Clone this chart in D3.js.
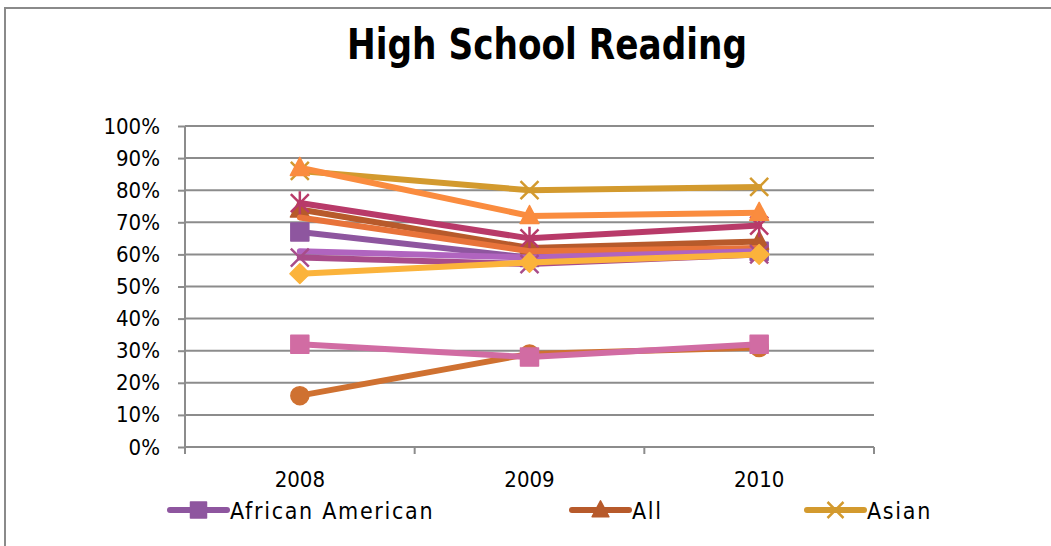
<!DOCTYPE html>
<html>
<head>
<meta charset="utf-8">
<script src="https://cdn.jsdelivr.net/npm/d3@7"></script>
<style>
  html, body { margin: 0; padding: 0; background: #fff; }
  svg { display: block; }
  text { font-family: "DejaVu Sans Condensed", "DejaVu Sans", sans-serif; fill: #000; }
</style>
</head>
<body>
<svg id="chart" width="1051" height="546"></svg>
<script>
// School years on the category axis
const years = ["2008", "2009", "2010"];

// Percent tick labels on the value axis
const yTicks = [0, 10, 20, 30, 40, 50, 60, 70, 80, 90, 100];

// Student groups, percent meeting standard per year
const groupNames = [
  "African American", "All", "Asian", "White", "Hispanic",
  "Two or More Races", "Native American", "Pacific Islander",
  "Low Income", "Limited English", "Special Ed"
];
const africanAmerican = [67, 59, 61];
const allStudents     = [74, 62, 64];
const asian           = [86, 80, 81];
const white           = [76, 65, 69];
const hispanic        = [71.5, 61, 62];
const multiRacial     = [61, 59, 61];
const nativeAmerican  = [59, 57, 60];
const pacificIslander = [54, 57.5, 60];
const lowIncome       = [87, 72, 73];
const limitedEnglish  = [16, 29, 31];
const specialEd       = [32, 28, 32];

const seriesValues = [
  africanAmerican, allStudents, asian, white, hispanic,
  multiRacial, nativeAmerican, pacificIslander, lowIncome,
  limitedEnglish, specialEd
];
const seriesColors = [
  "#8e569f", "#b75a2b", "#d39a2e", "#b83a69", "#e8733a",
  "#b064bf", "#a84c8a", "#fbb33b", "#fa8c3f", "#cf7131", "#d16ca3"
];
const seriesMarkers = [
  "square", "triangle", "x", "star", "none",
  "none", "x", "diamond", "triangle", "circle", "square"
];
// Only the first three groups fit in the legend row
const legendCount = 3;

const svg = d3.select("#chart");

// Outer chart frame
svg.append("rect")
  .attr("x", 5).attr("y", 8).attr("width", 1070).attr("height", 560)
  .attr("fill", "#fff").attr("stroke", "#8a8a8a").attr("stroke-width", 2);

// Title
svg.append("text")
  .attr("x", 547).attr("y", 59)
  .attr("text-anchor", "middle")
  .attr("textLength", 400).attr("lengthAdjust", "spacingAndGlyphs")
  .style("font-size", "43px").style("font-weight", "bold")
  .text("High School Reading");

const plot = { left: 185, right: 874, top: 126, bottom: 447 };

const x = d3.scaleBand().domain(years).range([plot.left, plot.right]);
const y = d3.scaleLinear().domain([0, 100]).range([plot.bottom, plot.top]);
const px = d => x(d) + x.bandwidth() / 2;

const gridColor = "#8c8c8c";

// Horizontal gridlines
svg.append("g")
  .selectAll("line").data(yTicks.filter(t => t > 0)).join("line")
  .attr("x1", plot.left).attr("x2", plot.right)
  .attr("y1", d => y(d)).attr("y2", d => y(d))
  .attr("stroke", gridColor).attr("stroke-width", 2);

// Value axis
const yAxis = svg.append("g")
  .attr("transform", `translate(${plot.left},0)`)
  .call(d3.axisLeft(y).tickValues(yTicks).tickSize(7).tickPadding(18)
    .tickFormat(d => d + "%"));
yAxis.selectAll("path, line").attr("stroke", gridColor).attr("stroke-width", 2);
yAxis.select(".domain").attr("d", `M0,${plot.top}V${plot.bottom}`);
yAxis.selectAll("text").style("font-size", "22px").style("font-family", "DejaVu Sans Condensed").attr("fill", "#000");

// Category axis with ticks between categories
const xAxis = svg.append("g")
  .attr("transform", `translate(0,${plot.bottom})`);
xAxis.append("line")
  .attr("x1", plot.left).attr("x2", plot.right)
  .attr("stroke", gridColor).attr("stroke-width", 2);
const bounds = years.map(d => x(d)).concat([x(years[years.length - 1]) + x.bandwidth()]);
xAxis.selectAll("line.tick").data(bounds).join("line")
  .attr("class", "tick")
  .attr("x1", d => d).attr("x2", d => d).attr("y1", 0).attr("y2", 7)
  .attr("stroke", gridColor).attr("stroke-width", 2);
xAxis.selectAll("text").data(years).join("text")
  .attr("x", d => px(d)).attr("y", 40)
  .attr("text-anchor", "middle")
  .style("font-size", "22px")
  .text(d => d);

// Marker shapes
function markerPath(type, s) {
  const h = s / 2;
  switch (type) {
    case "square": return `M${-h},${-h}H${h}V${h}H${-h}Z`;
    case "triangle": return `M0,${-h * 1.15}L${h * 1.05},${h * 0.85}L${-h * 1.05},${h * 0.85}Z`;
    case "diamond": return `M0,${-h * 1.1}L${h * 1.1},0L0,${h * 1.1}L${-h * 1.1},0Z`;
    case "circle": return d3.symbol(d3.symbolCircle, Math.PI * h * h)();
    case "x": return `M${-h},${-h}L${h},${h}M${h},${-h}L${-h},${h}`;
    case "star": return `M${-h},${-h}L${h},${h}M${h},${-h}L${-h},${h}M0,${-h * 1.3}V${h * 1.3}`;
    default: return "";
  }
}
function drawMarker(g, type, color, s) {
  if (type === "none") return;
  const stroked = type === "x" || type === "star";
  g.append("path")
    .attr("d", markerPath(type, s))
    .attr("fill", stroked ? "none" : color)
    .attr("stroke", color)
    .attr("stroke-width", stroked ? 2.5 : 1.5)
    .attr("stroke-linejoin", "round");
}

const line = d3.line().x((d, i) => px(years[i])).y(d => y(d));

// Each group: thick line followed by its markers
seriesValues.forEach((vals, k) => {
  const g = svg.append("g");
  g.append("path")
    .attr("d", line(vals))
    .attr("fill", "none")
    .attr("stroke", seriesColors[k])
    .attr("stroke-width", 6)
    .attr("stroke-linecap", "round")
    .attr("stroke-linejoin", "round");
  vals.forEach((v, i) => {
    const mg = g.append("g").attr("transform", `translate(${px(years[i])},${y(v)})`);
    drawMarker(mg, seriesMarkers[k], seriesColors[k], 18);
  });
});

// Legend
const legendX = [170, 572, 807];
groupNames.slice(0, legendCount).forEach((name, k) => {
  const g = svg.append("g").attr("transform", `translate(${legendX[k]},510)`);
  g.append("line").attr("x1", 0).attr("x2", 57)
    .attr("stroke", seriesColors[k]).attr("stroke-width", 6)
    .attr("stroke-linecap", "round");
  const mg = g.append("g").attr("transform", "translate(28.5,0)");
  drawMarker(mg, seriesMarkers[k], seriesColors[k], 16);
  g.append("text").attr("x", 60).attr("y", 9)
    .style("font-size", "23px").style("letter-spacing", "1.7px")
    .text(name);
});
</script>
</body>
</html>
